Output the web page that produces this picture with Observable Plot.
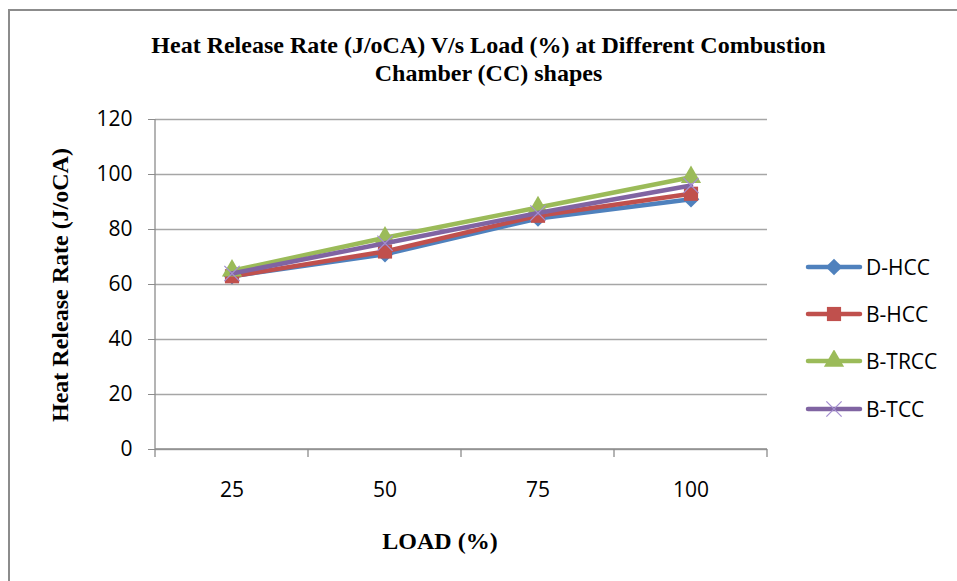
<!DOCTYPE html>
<html>
<head>
<meta charset="utf-8">
<script src="https://cdn.jsdelivr.net/npm/d3@7"></script>
<script src="https://cdn.jsdelivr.net/npm/@observablehq/plot@0.6"></script>
<style>
  html, body { margin: 0; padding: 0; background: #fff; }
  #wrap { position: relative; width: 957px; height: 581px; overflow: hidden; }
  #frame { position: absolute; left: 8px; top: 9px; width: 1000px; height: 1000px;
           border-left: 2px solid #8c8c8c; border-top: 2px solid #8c8c8c; }
  #title { position: absolute; left: 0; width: 977px; top: 31px; text-align: center;
           font-family: "Liberation Serif", serif; font-weight: bold; font-size: 24px; line-height: 28px; color: #000; }
  #chart { position: absolute; left: 0; top: 0; }
  #legend { position: absolute; left: 805px; top: 243px; font-family: "Open Sans", sans-serif; font-size: 21px; color: #000; }
  .item { display: flex; align-items: center; height: 47.3px; }
  .item svg { margin-right: 3px; }
</style>
</head>
<body>
<div id="wrap">
  <div id="frame"></div>
  <div id="chart"></div>
  <div id="title">Heat Release Rate (J/oCA) V/s Load (%) at Different Combustion<br>Chamber (CC) shapes</div>
  <div id="legend"></div>
</div>
<script>
const loads = ["25", "50", "75", "100"];
const seriesNames = ["D-HCC", "B-HCC", "B-TRCC", "B-TCC"];
const dHCC  = [63, 71, 84, 91];
const bHCC  = [63, 72, 85, 93];
const bTRCC = [65, 77, 88, 99];
const bTCC  = [64, 75, 86, 96];
const yTicks = [0, 20, 40, 60, 80, 100, 120];

const colors = ["#4F81BD", "#C0504D", "#9BBB59", "#8064A2"];
const symbols = ["diamond2", "square", "triangle", "times"];
const allValues = [dHCC, bHCC, bTRCC, bTCC];
const radius = {diamond2: 7.5, square: 8, triangle: 7.5, times: 7};

const data = [];
seriesNames.forEach((s, i) => loads.forEach((l, j) => data.push({series: s, load: l, value: allValues[i][j]})));

const marks = [
  Plot.ruleY(yTicks, {stroke: "#a6a6a6", strokeWidth: 1.3}),
  Plot.axisY(yTicks, {tickSize: 7, tickPadding: 16, stroke: "#8c8c8c", fontSize: 21, fontFamily: "Open Sans", label: null}),
  Plot.axisX({tickSize: 0, tickPadding: 33, fontSize: 21, fontFamily: "Open Sans", label: null})
];
seriesNames.forEach((s, i) => {
  const d = data.filter(r => r.series === s);
  marks.push(Plot.line(d, {x: "load", y: "value", stroke: colors[i], strokeWidth: 4.5, strokeLinejoin: "round", strokeLinecap: "round"}));
  if (symbols[i] === "times") {
    marks.push(Plot.dot(d, {x: "load", y: "value", symbol: "times", r: radius.times, stroke: "#a48fd0", strokeWidth: 1.3}));
  } else {
    marks.push(Plot.dot(d, {x: "load", y: "value", symbol: symbols[i], r: radius[symbols[i]], fill: colors[i], stroke: "none"}));
  }
});

const chart = Plot.plot({
  width: 957, height: 581,
  marginLeft: 155, marginRight: 190, marginTop: 119, marginBottom: 132,
  x: {type: "band", domain: loads, padding: 0},
  y: {domain: [0, 120]},
  style: {background: "transparent", color: "#000"},
  marks
});

// axis lines and boundary ticks drawn from the library's scales
const xs = chart.scale("x"), ys = chart.scale("y");
const svg = d3.select(chart);
const y0 = ys.apply(0), yTop = ys.apply(120);
const xStart = xs.apply(loads[0]);
const xEnd = xs.apply(loads[loads.length - 1]) + xs.bandwidth;
const g = svg.append("g").attr("stroke", "#8c8c8c").attr("stroke-width", 1.3);
g.append("line").attr("x1", xStart).attr("x2", xStart).attr("y1", yTop).attr("y2", y0);
g.append("line").attr("x1", xStart).attr("x2", xEnd).attr("y1", y0).attr("y2", y0);
const bounds = loads.map(l => xs.apply(l)).concat([xEnd]);
bounds.forEach(b => g.append("line").attr("x1", b).attr("x2", b).attr("y1", y0).attr("y2", y0 + 8));
svg.selectAll("g[aria-label='line'], g[aria-label='dot']").raise();

// axis titles
svg.append("text").attr("x", 440).attr("y", 549).attr("text-anchor", "middle")
  .attr("font-family", "Liberation Serif").attr("font-weight", "bold").attr("font-size", 24).text("LOAD (%)");
svg.append("text").attr("transform", `translate(68,${(y0 + yTop) / 2 + 1}) rotate(-90)`).attr("text-anchor", "middle")
  .attr("font-family", "Liberation Serif").attr("font-weight", "bold").attr("font-size", 24).text("Heat Release Rate (J/oCA)");

document.getElementById("chart").appendChild(chart);

// legend
const legend = d3.select("#legend");
const symMap = {diamond2: d3.symbolDiamond2, square: d3.symbolSquare, triangle: d3.symbolTriangle, times: d3.symbolTimes};
seriesNames.forEach((s, i) => {
  const item = legend.append("div").attr("class", "item");
  const sv = item.append("svg").attr("width", 58).attr("height", 22);
  sv.append("line").attr("x1", 3).attr("x2", 55).attr("y1", 11).attr("y2", 11)
    .attr("stroke", colors[i]).attr("stroke-width", 4.5).attr("stroke-linecap", "round");
  const r = radius[symbols[i]];
  const p = d3.symbol(symMap[symbols[i]], Math.PI * r * r)();
  const path = sv.append("path").attr("d", p).attr("transform", "translate(29,11)");
  if (symbols[i] === "times") path.attr("fill", "none").attr("stroke", "#a48fd0").attr("stroke-width", 1.3);
  else path.attr("fill", colors[i]);
  item.append("span").text(s);
});
</script>
</body>
</html>
